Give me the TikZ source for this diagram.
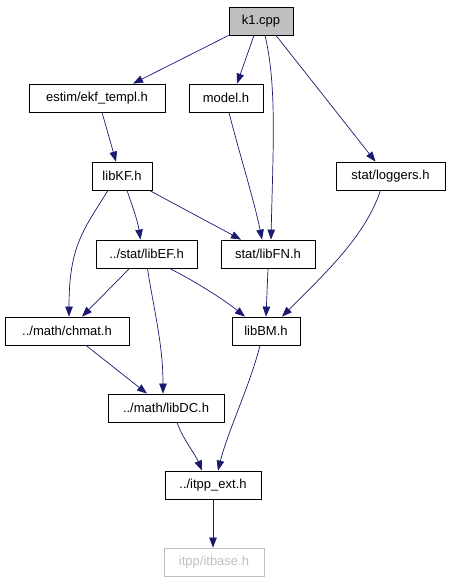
\documentclass[tikz,border=0pt]{standalone}
\usepackage{fontspec}
\setmainfont{Liberation Sans}
\usetikzlibrary{arrows.meta,positioning}
\definecolor{edgeblue}{HTML}{191970}
\definecolor{boxgray}{HTML}{BFBFBF}

\begin{document}
\begin{tikzpicture}[
        x=1pt, y=-1pt,
        >=Stealth,
        file_node/.style={
            rectangle,
            draw=black,
            line width=0.8pt,
            minimum height=28pt,
            inner sep=0pt,
            font=\fontsize{13}{15}\selectfont
        },
        root_node/.style={file_node, fill=boxgray},
        ext_node/.style={file_node, draw=boxgray, text=boxgray},
        include_arrow/.style={-{Triangle[length=10pt,width=7.5pt]}, edgeblue, line width=0.7pt}
    ]

    \useasboundingbox (0,0) rectangle (451,581);

    % =================================================
    % FILES (include graph levels)
    % =================================================

    \node[root_node, minimum width=64pt] (k1) at (261, 21) {k1.cpp};

    \node[file_node, minimum width=136pt] (ekf_templ) at (97, 98) {estim/ekf\_templ.h};
    \node[file_node, minimum width=74pt] (model) at (226, 98) {model.h};

    \node[file_node, minimum width=60pt] (libKF) at (122, 176) {libKF.h};
    \node[file_node, minimum width=109pt] (loggers) at (390.5, 176) {stat/loggers.h};

    \node[file_node, minimum width=101pt] (libEF) at (146.5, 254) {../stat/libEF.h};
    \node[file_node, minimum width=94pt] (libFN) at (268, 254) {stat/libFN.h};

    \node[file_node, minimum width=124pt] (chmat) at (67, 331) {../math/chmat.h};
    \node[file_node, minimum width=68pt] (libBM) at (266, 331) {libBM.h};

    \node[file_node, minimum width=116pt] (libDC) at (166, 408) {../math/libDC.h};

    \node[file_node, minimum width=96pt] (itpp_ext) at (213, 485) {../itpp\_ext.h};

    \node[ext_node, minimum width=100pt] (itbase) at (214, 562) {itpp/itbase.h};

    % =================================================
    % INCLUDES
    % =================================================

    % from k1.cpp
    \draw[include_arrow] (k1.south west) -- ([xshift=36pt]ekf_templ.north);
    \draw[include_arrow] ([xshift=-7pt]k1.south) -- ([xshift=11pt]model.north);
    \draw[include_arrow] ([xshift=4pt]k1.south) .. controls +(12,50) and +(2,-90) .. ([xshift=3pt]libFN.north);
    \draw[include_arrow] ([xshift=15pt]k1.south) -- ([xshift=-15pt]loggers.north);

    % from estim/ekf_templ.h and model.h
    \draw[include_arrow] ([xshift=5pt]ekf_templ.south) -- ([xshift=-6pt]libKF.north);
    \draw[include_arrow] ([xshift=3pt]model.south) .. controls +(10,40) and +(-8,-40) .. ([xshift=-6pt]libFN.north);

    % from libKF.h
    \draw[include_arrow] ([xshift=-14pt]libKF.south) .. controls +(-25,40) and +(0,-70) .. ([xshift=2pt]chmat.north);
    \draw[include_arrow] ([xshift=5pt]libKF.south) .. controls +(4,12) and +(-3,-20) .. ([xshift=-6pt]libEF.north);
    \draw[include_arrow] ([xshift=-3pt]libKF.south east) -- ([xshift=-27pt]libFN.north);

    % from stat/loggers.h
    \draw[include_arrow] ([xshift=-10pt]loggers.south) .. controls +(-15,45) and +(45,-45) .. ([xshift=16pt]libBM.north);

    % from ../stat/libEF.h
    \draw[include_arrow] ([xshift=-17pt]libEF.south) -- ([xshift=15pt]chmat.north);
    \draw[include_arrow] ([xshift=1pt]libEF.south) .. controls +(6,40) and +(0,-50) .. ([xshift=-3pt]libDC.north);
    \draw[include_arrow] ([xshift=23pt]libEF.south) .. controls +(20,10) and +(-25,-20) .. ([xshift=-21pt]libBM.north);

    % from stat/libFN.h
    \draw[include_arrow] (libFN.south) -- (libBM.north);

    % from ../math/chmat.h
    \draw[include_arrow] ([xshift=19pt]chmat.south) -- ([xshift=-19pt]libDC.north);

    % from libBM.h and ../math/libDC.h
    \draw[include_arrow] ([xshift=-6pt]libBM.south) .. controls +(-10,40) and +(10,-40) .. ([xshift=5pt]itpp_ext.north);
    \draw[include_arrow] ([xshift=11pt]libDC.south) .. controls +(5,15) and +(-6,-15) .. ([xshift=-11pt]itpp_ext.north);

    % from ../itpp_ext.h
    \draw[include_arrow] (itpp_ext.south) -- (itpp_ext.south |- itbase.north);

\end{tikzpicture}
\end{document}
